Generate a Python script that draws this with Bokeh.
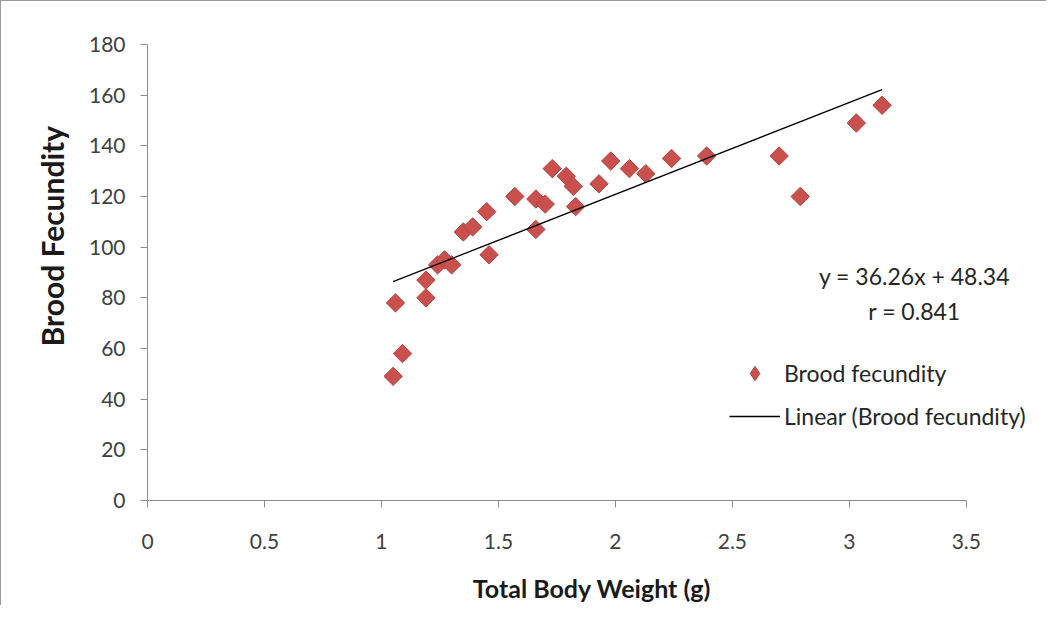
from bokeh.plotting import figure
from bokeh.models import Range1d, Legend, LegendItem, Label, FixedTicker, Title
from bokeh.embed import file_html
from bokeh.resources import INLINE
import numpy as np

# ---- data ----
body_weight = [1.05, 1.06, 1.09, 1.19, 1.19, 1.24, 1.27, 1.30, 1.35, 1.39,
               1.45, 1.46, 1.57, 1.66, 1.66, 1.70, 1.73, 1.79, 1.82, 1.83,
               1.93, 1.98, 2.06, 2.13, 2.24, 2.39, 2.70, 2.79, 3.03, 3.14]
brood_fecundity = [49, 78, 58, 87, 80, 93, 95, 93, 106, 108,
                   114, 97, 120, 107, 119, 117, 131, 128, 124, 116,
                   125, 134, 131, 129, 135, 136, 136, 120, 149, 156]
slope = 36.26
intercept = 48.34
r_value = 0.841
x_ticks = [0, 0.5, 1, 1.5, 2, 2.5, 3, 3.5]
y_ticks = [0, 20, 40, 60, 80, 100, 120, 140, 160, 180]
x_title = "Total Body Weight (g)"
y_title = "Brood Fecundity"

FONT = "Lato"
AXIS_GREY = "#8c8c8c"
TEXT_DARK = "#404040"
RED = "#c9504c"
RED_EDGE = "#b04542"

p = figure(width=1046, height=605, output_backend="svg", toolbar_location=None,
           x_range=Range1d(0, 3.8), y_range=Range1d(0, 180),
           min_border_left=146, min_border_right=11, min_border_top=43, min_border_bottom=106)
p.grid.visible = False
p.outline_line_color = None
p.background_fill_color = "white"
p.border_fill_color = "white"
p.styles = {"border-left": "1px solid #9a9a9a", "border-top": "1px solid #9a9a9a"}

# axes
p.xaxis.ticker = FixedTicker(ticks=x_ticks)
p.yaxis.ticker = FixedTicker(ticks=y_ticks)
p.xaxis.bounds = (0, 3.5)
p.xaxis.major_label_overrides = {t: f"{t:g}" for t in x_ticks}
for ax in (p.xaxis[0], p.yaxis[0]):
    ax.axis_line_color = AXIS_GREY
    ax.major_tick_line_color = AXIS_GREY
    ax.minor_tick_line_color = None
    ax.major_tick_in = 0
    ax.major_tick_out = 7
    ax.major_label_text_font = FONT
    ax.major_label_text_font_size = "21px"
    ax.major_label_text_color = TEXT_DARK
p.xaxis.major_label_standoff = 26
p.yaxis.major_label_standoff = 15

# x title as the axis label
p.xaxis.axis_label = x_title
p.xaxis.axis_label_text_font = FONT
p.xaxis.axis_label_text_font_size = "25px"
p.xaxis.axis_label_text_font_style = "bold"
p.xaxis.axis_label_text_color = "#1a1a1a"
p.xaxis.axis_label_standoff = 21

# y title as a side title so it can sit off-centre like the original
p.add_layout(Title(text=y_title, align="left", offset=154, standoff=32,
                   text_font=FONT, text_font_size="30px", text_font_style="bold",
                   text_color="#1a1a1a"), "left")

# scatter
pts = p.scatter(body_weight, brood_fecundity, marker="square", angle=np.pi / 4,
                size=13, fill_color=RED, line_color=RED_EDGE, line_width=1)
# legend proxy for the same series (diamond symbol in the legend), not drawn in the plot
proxy = p.scatter(body_weight, brood_fecundity, marker="diamond",
                  fill_color=RED, line_color=RED_EDGE, visible=False)

# linear trend line
xs = np.array([min(body_weight), max(body_weight)])
trend = p.line(xs, slope * xs + intercept, line_color="black", line_width=1.3)

legend = Legend(items=[LegendItem(label="Brood fecundity", renderers=[proxy]),
                       LegendItem(label="Linear (Brood fecundity)", renderers=[trend])],
                location=(582, 66), padding=0, margin=0, spacing=7,
                glyph_width=51, glyph_height=36, label_height=36, label_standoff=4,
                label_text_font=FONT, label_text_font_size="23px", label_text_color="#262626",
                border_line_color=None, background_fill_alpha=0)
p.add_layout(legend)

# regression annotation
eq = Label(x=767, y=225, x_units="screen", y_units="screen",
           text=f"y = {slope}x + {intercept}", text_font=FONT, text_font_size="23px",
           text_color="#262626", text_align="center", text_baseline="middle")
rr = Label(x=767, y=190, x_units="screen", y_units="screen",
           text=f"r = {r_value}", text_font=FONT, text_font_size="23px",
           text_color="#262626", text_align="center", text_baseline="middle")
p.add_layout(eq)
p.add_layout(rr)

open("out.html", "w").write(file_html(p, INLINE))
